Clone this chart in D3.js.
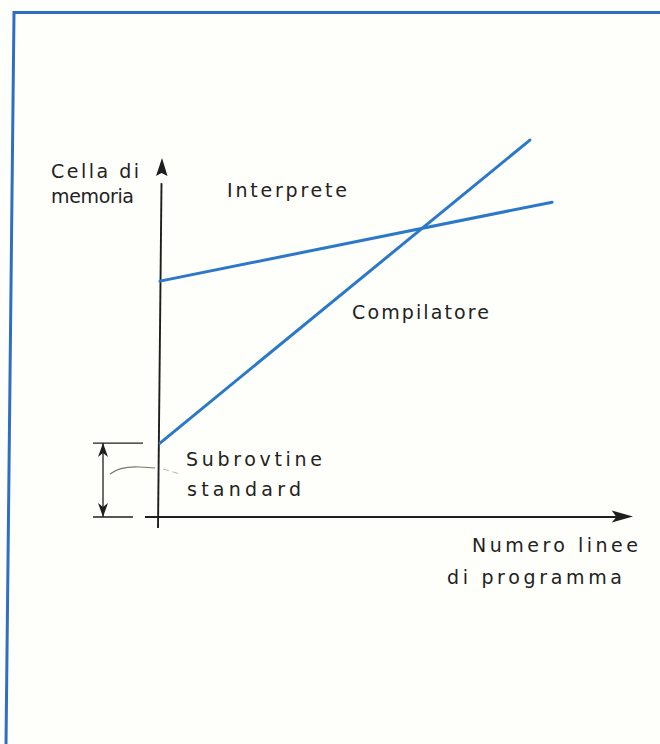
<!DOCTYPE html>
<html><head><meta charset="utf-8">
<script src="https://cdn.jsdelivr.net/npm/d3@7"></script>
<style>html,body{margin:0;padding:0;background:#fefefb;}svg{display:block;}</style>
</head><body>
<script>
// Data (arbitrary units: x = program lines, y = memory cells)
const seriesNames = ["Interprete", "Compilatore"];
const interpreteX = [0, 82.9];
const interpreteY = [65.7, 87.7];
const compilatoreX = [0, 78.2];
const compilatoreY = [20.6, 105.0];
const subroutineY = [0, 20.6];
const yAxisLabel = ["Cella di", "memoria"];
const xAxisLabel = ["Numero linee", "di programma"];
const subLabel = ["Subrovtine", "standard"];

const W = 660, H = 744;
const svg = d3.select("body").append("svg").attr("width", W).attr("height", H);
svg.append("rect").attr("width", W).attr("height", H).attr("fill", "#fefefb");

// frame (top + left border)
const blue = "#2c78c8";
svg.append("path").attr("d", "M660,12.5 L14,12.5 L6,744").attr("fill", "none")
  .attr("stroke", "#2f6fbf").attr("stroke-width", 3);

const x = d3.scaleLinear().domain([0, 100]).range([160, 633]);
const y = d3.scaleLinear().domain([0, 100]).range([517, 158]);

const ink = "#1e1e1e";

// axes
svg.append("line").attr("x1", 161.5).attr("y1", y(93)).attr("x2", 158).attr("y2", 528)
  .attr("stroke", ink).attr("stroke-width", 1.9);
svg.append("path").attr("d", `M162,${y(100)} L156,${y(95)} L161.5,${y(95.8)} L167.5,${y(95)} Z`).attr("fill", ink);
svg.append("line").attr("x1", 145).attr("y1", y(0)).attr("x2", x(97)).attr("y2", y(0))
  .attr("stroke", ink).attr("stroke-width", 1.9);
svg.append("path").attr("d", `M${x(100)},${y(0)-0.5} L${x(95.5)},${y(0)-6.5} L${x(96.5)},${y(0)} L${x(95.5)},${y(0)+5.5} Z`).attr("fill", ink);

// series lines
const line = d3.line().x(d => x(d[0])).y(d => y(d[1]));
const series = [
  d3.zip(interpreteX, interpreteY),
  d3.zip(compilatoreX, compilatoreY)
];
svg.selectAll("path.series").data(series).enter().append("path")
  .attr("class", "series").attr("d", line).attr("fill", "none")
  .attr("stroke", blue).attr("stroke-width", 3).attr("stroke-linecap", "round");

// subroutine dimension marker
const ySubTop = y(subroutineY[1]), ySubBot = y(subroutineY[0]);
svg.append("line").attr("x1", 93).attr("x2", 143).attr("y1", ySubTop).attr("y2", ySubTop)
  .attr("stroke", ink).attr("stroke-width", 1.3);
svg.append("line").attr("x1", 93).attr("x2", 133).attr("y1", ySubBot).attr("y2", ySubBot)
  .attr("stroke", ink).attr("stroke-width", 1.3);
svg.append("line").attr("x1", 103).attr("x2", 103).attr("y1", ySubTop).attr("y2", ySubBot)
  .attr("stroke", ink).attr("stroke-width", 1.3);
svg.append("path").attr("d", `M103,${ySubTop} L98,${ySubTop+14} L103,${ySubTop+10} L108,${ySubTop+14} Z`).attr("fill", ink);
svg.append("path").attr("d", `M103,${ySubBot} L98,${ySubBot-14} L103,${ySubBot-10} L108,${ySubBot-14} Z`).attr("fill", ink);
svg.append("path").attr("d", "M110,474 Q120,466 140,467 L155,468").attr("fill", "none")
  .attr("stroke", "#7a7a6a").attr("stroke-width", 1.1);
svg.append("path").attr("d", "M163,469 L180,474").attr("fill", "none")
  .attr("stroke", "#b8b8a8").attr("stroke-width", 1).attr("stroke-dasharray", "6,4");

// text
const texts = [
  {t: yAxisLabel[0], x: 51, y: 178, w: 88},
  {t: yAxisLabel[1], x: 51, y: 203, w: 83},
  {t: seriesNames[0], x: 227, y: 197, w: 120},
  {t: seriesNames[1], x: 352, y: 319, w: 137},
  {t: subLabel[0], x: 186, y: 466, w: 136},
  {t: subLabel[1], x: 187, y: 496, w: 114},
  {t: xAxisLabel[0], x: 472, y: 552, w: 166},
  {t: xAxisLabel[1], x: 447, y: 584, w: 175}
];
svg.selectAll("text.lbl").data(texts).enter().append("text")
  .attr("class", "lbl").attr("x", d => d.x).attr("y", d => d.y)
  .attr("textLength", d => d.w).attr("lengthAdjust", "spacing")
  .attr("font-family", "DejaVu Sans, sans-serif").attr("font-size", 19)
  .attr("fill", "#222").text(d => d.t);
</script>
</body></html>
